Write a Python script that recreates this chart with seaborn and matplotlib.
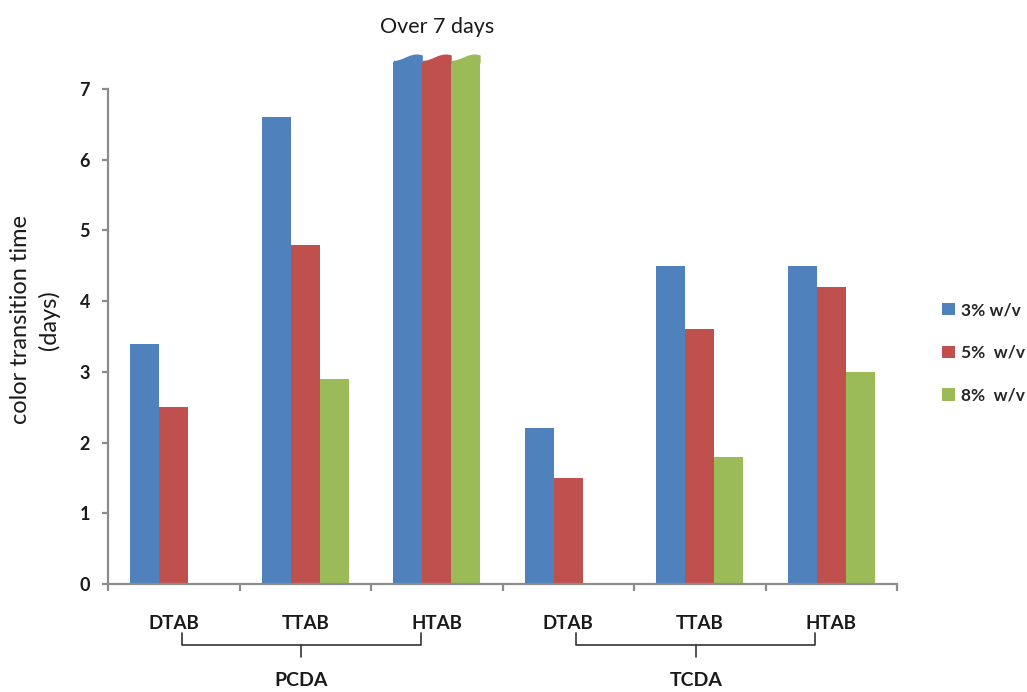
import numpy as np
import pandas as pd
import matplotlib
matplotlib.use("Agg")
import matplotlib.pyplot as plt
from matplotlib.patches import Patch
import seaborn as sns

# ---- data ----
surfactants = ["DTAB", "TTAB", "HTAB", "DTAB", "TTAB", "HTAB"]
polymers = ["PCDA", "TCDA"]
concentrations = ["3% w/v", "5%  w/v", "8%  w/v"]
days_3 = [3.4, 6.6, 7.45, 2.2, 4.5, 4.5]
days_5 = [2.5, 4.8, 7.45, 1.5, 3.6, 4.2]
days_8 = [np.nan, 2.9, 7.45, np.nan, 1.8, 3.0]
y_ticks = [0, 1, 2, 3, 4, 5, 6, 7]
title_text = "Over 7 days"
ylabel_text = "color transition time\n(days)"

colors = ["#4F81BD", "#C0504D", "#9BBB59"]

sns.set_style("white")
plt.rcParams["font.family"] = ["Lato", "DejaVu Sans"]

keys = [f"{polymers[i // 3]} {s}" for i, s in enumerate(surfactants)]
rows = []
for conc, vals in zip(concentrations, [days_3, days_5, days_8]):
    for k, v in zip(keys, vals):
        rows.append({"sample": k, "conc": conc, "days": v})
df = pd.DataFrame(rows)

fig = plt.figure(figsize=(10.27, 6.92), dpi=100)
ax = fig.add_axes([108 / 1027, 1 - 584 / 692, 789 / 1027, 495 / 692])

sns.barplot(data=df, x="sample", y="days", hue="conc", order=keys,
            hue_order=concentrations, palette=colors, width=0.66,
            saturation=1, legend=False, errorbar=None, ax=ax,
            edgecolor="none", linewidth=0)

ax.set_ylim(0, 7)
ax.set_xlim(-0.5, 5.5)

# bars that run past the axis top get a wavy cap
for p in list(ax.patches):
    h = p.get_height()
    if np.isfinite(h) and h > 7:
        x0, w = p.get_x(), p.get_width()
        p.set_height(h - 0.07)
        p.set_clip_on(False)
        t = np.linspace(0, 1, 60)
        xs = x0 + w * t
        top = h + 0.045 * np.sin(1.25 * np.pi * (t - 0.4))
        ax.fill_between(xs, h - 0.08, top, color=p.get_facecolor(),
                        linewidth=0, clip_on=False)

# axes styling
for side in ["top", "right"]:
    ax.spines[side].set_visible(False)
for side in ["left", "bottom"]:
    ax.spines[side].set_color("#8C8C8C")
    ax.spines[side].set_linewidth(1.6)

ax.set_yticks(y_ticks)
ax.set_yticklabels([str(v) for v in y_ticks], fontsize=13,
                   fontweight="bold", color="#1a1a1a")
ax.tick_params(axis="y", direction="out", length=4, width=1.6,
               color="#8C8C8C", pad=9, left=True)

# labels at category centres, tick marks at category boundaries
ax.set_xticks(np.arange(6))
ax.set_xticklabels(surfactants, fontsize=13.5, fontweight="bold",
                   color="#1a1a1a")
ax.tick_params(axis="x", which="major", length=0, pad=22)
ax.set_xticks(np.arange(-0.5, 6.0, 1.0), minor=True)
ax.tick_params(axis="x", which="minor", direction="out", length=5,
               width=1.6, color="#8C8C8C", bottom=True)
ax.set_xlabel("")
ax.set_ylabel("")

fig.text(35 / 1027, 1 - 320 / 692, ylabel_text, rotation=90, ha="center",
         va="center", fontsize=17, linespacing=1.35, color="#1a1a1a")

# title over the long-running group
ax.text(2, 7.88, title_text, ha="center", va="center", fontsize=15.5,
        color="#1a1a1a", clip_on=False)

# brackets under each polymer group
for g, name in enumerate(polymers):
    xl, xr = 3 * g + 0.06, 3 * g + 1.88
    xc = (xl + xr) / 2
    ax.plot([xl, xl, xr, xr], [-0.69, -0.86, -0.86, -0.69], color="#333333",
            lw=1.2, clip_on=False, solid_joinstyle="round")
    ax.plot([xc, xc], [-0.86, -1.03], color="#333333", lw=1.2, clip_on=False)
    ax.text(xc, -1.37, name, ha="center", va="center", fontsize=14,
            fontweight="bold", color="#1a1a1a", clip_on=False)

handles = [Patch(facecolor=c, edgecolor="none") for c in colors]
fig.legend(handles, concentrations, loc="center left",
           bbox_to_anchor=(926 / 1027, 1 - 353 / 692), frameon=False,
           handlelength=0.75, handleheight=0.75, labelspacing=1.55,
           handletextpad=0.35, prop={"weight": "bold", "size": 12.5})

fig.savefig("out.png", dpi=100)
